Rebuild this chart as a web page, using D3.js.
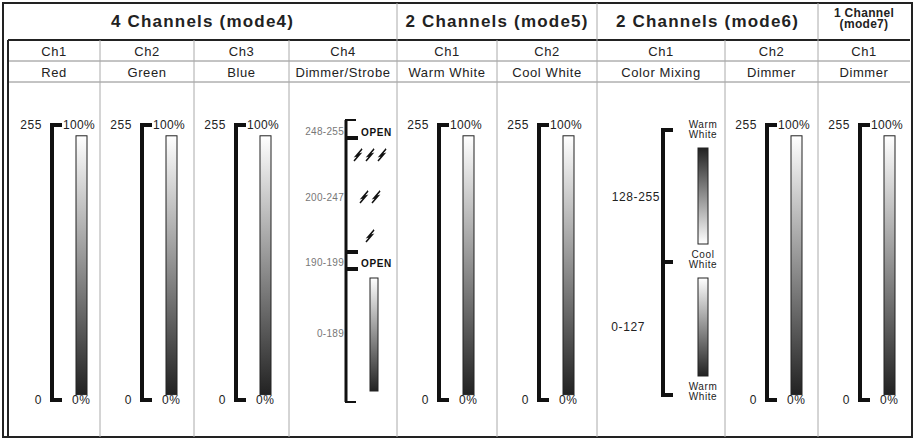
<!DOCTYPE html>
<html><head><meta charset="utf-8">
<script src="https://cdn.jsdelivr.net/npm/d3@7"></script>
<style>body{margin:0;background:#fff}text{font-family:Arial,"Liberation Sans",sans-serif}</style>
</head><body><svg id="c" width="915" height="440"></svg>
<script>
const modes = [
  { name: "4 Channels (mode4)", span: [0, 4] },
  { name: "2 Channels (mode5)", span: [4, 6] },
  { name: "2 Channels (mode6)", span: [6, 8] },
  { name: "1 Channel\n(mode7)", span: [8, 9] }
];
const channels = ["Ch1", "Ch2", "Ch3", "Ch4", "Ch1", "Ch2", "Ch1", "Ch2", "Ch1"];
const functions = ["Red", "Green", "Blue", "Dimmer/Strobe", "Warm White", "Cool  White", "Color Mixing", "Dimmer", "Dimmer"];
const kinds = ["fader", "fader", "fader", "strobe", "fader", "fader", "mix", "fader", "fader"];
const colEdges = [8, 100, 194, 289, 397, 497, 597, 725, 818, 910];
const strobeRanges = [[248, 255, "248-255", "OPEN"], [200, 247, "200-247", ""], [190, 199, "190-199", "OPEN"], [0, 189, "0-189", ""]];
const strobeFlashes = [3, 2, 1];
const mixRanges = [[128, 255, "128-255"], [0, 127, "0-127"]];
const mixLabels = [[255, "Warm\nWhite"], [128, "Cool\nWhite"], [0, "Warm\nWhite"]];

const svg = d3.select("#c");
const defs = svg.append("defs");
[["down", "#fff", "#222"], ["up", "#222", "#fff"]].forEach(([id, a, b]) => {
  const g = defs.append("linearGradient").attr("id", id).attr("x1", 0).attr("x2", 0).attr("y1", 0).attr("y2", 1);
  g.append("stop").attr("offset", "0%").attr("stop-color", a);
  g.append("stop").attr("offset", "100%").attr("stop-color", b);
});
const x = i => colEdges[i];
const y = d3.scaleLinear().domain([0, 255]).range([400, 125]);
const line = (x1, y1, x2, y2, w, c) => svg.append("line").attr("x1", x1).attr("y1", y1).attr("x2", x2).attr("y2", y2).attr("stroke", c || "#999").attr("stroke-width", w || 1);
const txt = (tx, ty, s, size, anchor, color, weight, ls) => {
  const t = svg.append("text").attr("x", tx).attr("y", ty).attr("font-size", size).attr("text-anchor", anchor || "middle").attr("fill", color || "#222").attr("font-weight", weight || "normal").attr("letter-spacing", ls || 0.6);
  s.split("\n").forEach((p, i) => t.append("tspan").attr("x", tx).attr("dy", i ? size * 0.95 : 0).text(p));
  return t;
};

// frame and grid
svg.append("rect").attr("x", 3).attr("y", 3).attr("width", 909).attr("height", 434).attr("fill", "none").attr("stroke", "#222").attr("stroke-width", 2);
line(8, 40, 910, 40, 2, "#222");
line(8, 61, 910, 61, 1, "#888");
line(8, 82, 910, 82, 1, "#888");
line(8, 40, 8, 437, 2, "#222");
colEdges.slice(1, -1).forEach((e, i) => line(e, modes.some(m => m.span[0] === i + 1) ? 3 : 40, e, 437, 1, "#aaa"));
modes.forEach(m => {
  const cx = (x(m.span[0]) + x(m.span[1])) / 2;
  if (m.name.includes("\n")) txt(cx, 17, m.name, 12, "middle", "#222", "bold", 0.3);
  else txt(cx, 27, m.name, 17, "middle", "#222", "bold", 1.2);
});
channels.forEach((c, i) => {
  const cx = (x(i) + x(i + 1)) / 2;
  txt(cx, 56, c, 13);
  txt(cx, 77, functions[i], 13, "middle", "#222", "normal", i === 3 ? 0 : 0.6);
});

function bracket(bx, y1, y2) {
  line(bx, y1, bx, y2, 4, "#111");
  line(bx - 2, y1, bx + 10, y1, 4, "#111");
  line(bx - 2, y2, bx + 10, y2, 4, "#111");
}

kinds.forEach((k, i) => {
  const l = x(i);
  if (k === "fader") {
    const bx = l + (i === 0 ? 44 : 42);
    bracket(bx, y(255), y(0));
    svg.append("rect").attr("x", bx + 24).attr("y", y(245)).attr("width", 11).attr("height", y(5) - y(245)).attr("fill", "url(#down)").attr("stroke", "#222");
    txt(bx - 10, y(255) + 4, "255", 12, "end");
    txt(bx + 11, y(255) + 4, "100%", 12, "start", "#222", "normal", 0.3);
    txt(bx - 10, y(0) + 4, "0", 12, "end");
    txt(bx + 20, y(0) + 4, "0%", 12, "start");
  } else if (k === "strobe") {
    const bx = l + 57, ys = d3.scaleLinear().domain([0, 255]).range([402, 120]);
    line(bx, ys(255), bx, ys(0), 3, "#111");
    [255, 0].forEach(v => line(bx - 1, ys(v), bx + 10, ys(v), 2, "#111"));
    [138, 252, 269].forEach(v => line(bx - 1, v, bx + 12, v, 4, "#111"));
    const ly = [131, 197, 262, 333];
    strobeRanges.forEach((r, j) => {
      txt(bx - 2, ly[j] + 4, r[2], 10, "end", "#777", "normal", 0.3);
      if (r[3]) txt(bx + 15, ly[j] + 5, r[3], 10, "start", "#111", "bold");
    });
    strobeFlashes.forEach((n, j) => {
      const fy = [155, 197, 236][j];
      for (let q = 0; q < n; q++) {
        const fx = bx + 24 - (n - 1) * 6 + q * 12;
        svg.append("path").attr("d", `M${fx + 4},${fy - 6} L${fx - 2},${fy + 1} L${fx + 1},${fy} L${fx - 4},${fy + 6} L${fx + 2},${fy - 1} L${fx - 1},${fy}Z`).attr("fill", "#111").attr("stroke", "#111").attr("stroke-width", 1.5);
      }
    });
    svg.append("rect").attr("x", bx + 24).attr("y", 278).attr("width", 8).attr("height", 113).attr("fill", "url(#down)").attr("stroke", "#222");
  } else {
    const bx = l + 66, ym = d3.scaleLinear().domain([0, 255]).range([395, 130]);
    line(bx, ym(255), bx, ym(0), 4, "#111");
    [255, 128, 0].forEach(v => line(bx - 2, ym(v), bx + 10, ym(v), 4, "#111"));
    txt(bx - 3, 201, mixRanges[0][2], 12, "end");
    txt(bx - 18, 331, mixRanges[1][2], 12, "end");
    mixLabels.forEach((m, j) => txt(l + 106, [128, 258, 390][j], m[1], 10, "middle", "#222"));
    svg.append("rect").attr("x", l + 101).attr("y", 148).attr("width", 10).attr("height", 96).attr("fill", "url(#up)").attr("stroke", "#222");
    svg.append("rect").attr("x", l + 101).attr("y", 278).attr("width", 10).attr("height", 98).attr("fill", "url(#down)").attr("stroke", "#222");
  }
});
</script></body></html>
